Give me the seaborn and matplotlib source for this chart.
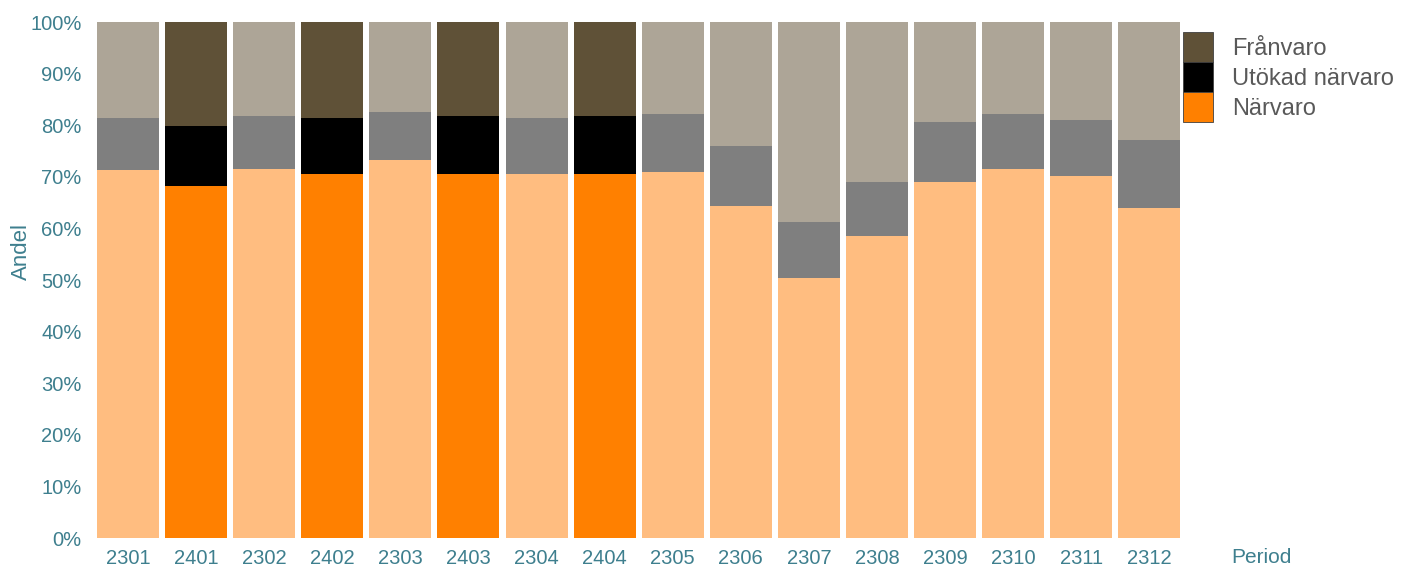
import numpy as np
import pandas as pd
import matplotlib
matplotlib.use("Agg")
import matplotlib.pyplot as plt
import seaborn as sns
from matplotlib.patches import Patch
from matplotlib.ticker import PercentFormatter

periods = ["2301", "2401", "2302", "2402", "2303", "2403", "2304", "2404",
           "2305", "2306", "2307", "2308", "2309", "2310", "2311", "2312"]
narvaro = [71.3, 68.2, 71.6, 70.5, 73.2, 70.5, 70.5, 70.5,
           70.9, 64.3, 50.3, 58.5, 68.9, 71.6, 70.1, 63.9]
utokad = [10.1, 11.6, 10.1, 10.9, 9.4, 11.2, 10.9, 11.2,
          11.2, 11.7, 10.9, 10.4, 11.7, 10.5, 10.9, 13.2]
franvaro = [18.6, 20.2, 18.3, 18.6, 17.4, 18.3, 18.6, 18.3,
            17.9, 24.0, 38.8, 31.1, 19.4, 17.9, 19.0, 22.9]
highlighted = ["2401", "2402", "2403", "2404"]

dark = {"Frånvaro": "#5F5137", "Utökad närvaro": "#000000", "Närvaro": "#FF8000"}
light = {"Frånvaro": "#ADA597", "Utökad närvaro": "#7F7F7F", "Närvaro": "#FFBD80"}

teal = "#3E7F8E"

sns.set_style("white")
plt.rcParams["font.family"] = ["Liberation Sans", "DejaVu Sans"]

df = pd.DataFrame({"period": periods, "narvaro": narvaro,
                   "utokad": utokad, "franvaro": franvaro})
df["lvl2"] = df["narvaro"] + df["utokad"]
df["lvl3"] = df["lvl2"] + df["franvaro"]


def colors_for(cat):
    return [dark[cat] if p in highlighted else light[cat] for p in periods]


fig = plt.figure(figsize=(14.12, 5.70), dpi=100)
ax = fig.add_axes([0.0666, 0.0561, 0.7714, 0.9053])

# stacked bars drawn as cumulative totals, back to front
for col, cat in [("lvl3", "Frånvaro"), ("lvl2", "Utökad närvaro"), ("narvaro", "Närvaro")]:
    sns.barplot(data=df, x="period", y=col, hue="period", palette=colors_for(cat),
                legend=False, width=0.91, linewidth=0, saturation=1, ax=ax)

ax.set_xlim(-0.5, len(periods) - 0.5)
ax.set_ylim(0, 100)
ax.set_yticks(np.arange(0, 101, 10))
ax.yaxis.set_major_formatter(PercentFormatter(100, decimals=0))
for s in ax.spines.values():
    s.set_visible(False)
ax.tick_params(axis="both", length=0, labelsize=14.5, colors=teal)
ax.tick_params(axis="y", pad=9)
ax.tick_params(axis="x", pad=8)
ax.set_xlabel("")
ax.set_ylabel("")
fig.text(0.008, 0.559, "Andel", rotation=90, color=teal, fontsize=16,
         ha="left", va="center")
fig.text(0.872, 0.0125, "Period", color=teal, fontsize=15, ha="left", va="baseline")

handles = [Patch(facecolor=dark[c], edgecolor="#404040", linewidth=0.6, label=c)
           for c in ["Frånvaro", "Utökad närvaro", "Närvaro"]]
leg = ax.legend(handles=handles, loc="upper left", bbox_to_anchor=(1.0, 0.981),
                frameon=False, fontsize=17, labelspacing=0.0, handlelength=1.27,
                handleheight=1.58, handletextpad=0.8, borderaxespad=0, borderpad=0)
for t in leg.get_texts():
    t.set_color("#595959")

fig.savefig("out.png", dpi=100)
